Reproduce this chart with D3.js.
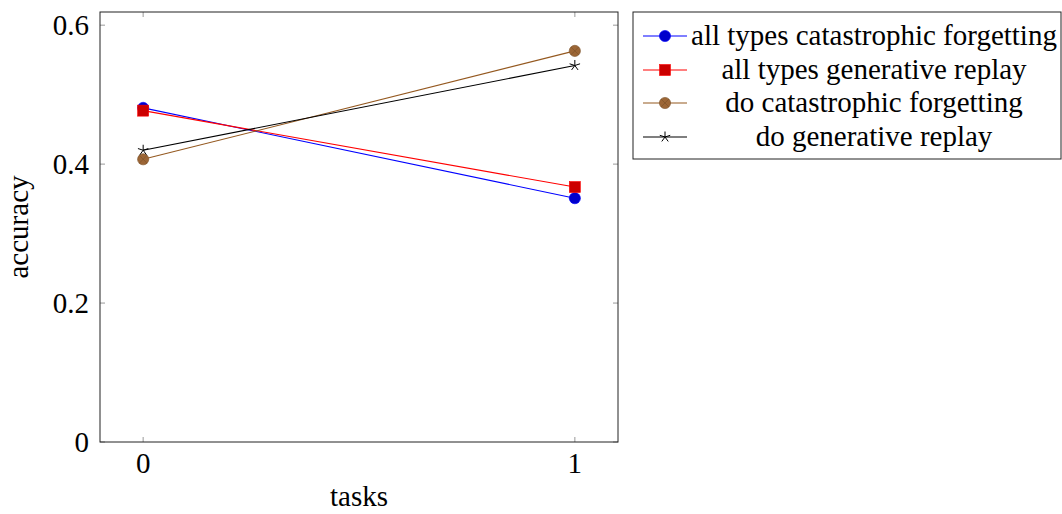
<!DOCTYPE html>
<html>
<head>
<meta charset="utf-8">
<script src="https://cdn.jsdelivr.net/npm/d3@7"></script>
<style>
  html, body { margin: 0; padding: 0; background: #fff; }
  svg { display: block; }
  text { font-family: "Liberation Serif", "Times New Roman", "DejaVu Serif", serif; fill: #000; }
</style>
</head>
<body>
<svg id="chart" width="1062" height="514"></svg>
<script>
// Accuracy per task for each training setting
const tasks = [0, 1];
const allTypesCatastrophic = [0.481, 0.351];
const allTypesGenerative = [0.477, 0.367];
const doCatastrophic = [0.407, 0.563];
const doGenerative = [0.420, 0.542];
const yTicks = [0, 0.2, 0.4, 0.6];
const xTicks = [0, 1];

const seriesNames = [
  "all types catastrophic forgetting",
  "all types generative replay",
  "do catastrophic forgetting",
  "do generative replay"
];
const seriesValues = [allTypesCatastrophic, allTypesGenerative, doCatastrophic, doGenerative];
const seriesStyles = [
  { line: "#0000ff", fill: "#0000cc", mark: "circle" },
  { line: "#ff0000", fill: "#cc0000", mark: "square" },
  { line: "#94581f", fill: "#9c6636", mark: "otimes" },
  { line: "#000000", fill: "#000000", mark: "star" }
];

const fontSize = 29;
const svg = d3.select("#chart");
const plot = { left: 100, right: 618, top: 12, bottom: 442 };

const x = d3.scaleLinear().domain([-0.1, 1.1]).range([plot.left, plot.right]);
const y = d3.scaleLinear().domain([0, 0.619]).range([plot.bottom, plot.top]);

// Tick marks drawn inward on all four sides
const tickLen = 5;
const tickColor = "#aaaaaa";
const ticks = svg.append("g");
yTicks.forEach(v => {
  ticks.append("line").attr("x1", plot.left).attr("x2", plot.left + tickLen)
    .attr("y1", y(v)).attr("y2", y(v)).attr("stroke", tickColor).attr("stroke-width", 1.2);
  ticks.append("line").attr("x1", plot.right).attr("x2", plot.right - tickLen)
    .attr("y1", y(v)).attr("y2", y(v)).attr("stroke", tickColor).attr("stroke-width", 1.2);
});
xTicks.forEach(v => {
  ticks.append("line").attr("x1", x(v)).attr("x2", x(v))
    .attr("y1", plot.bottom).attr("y2", plot.bottom - tickLen).attr("stroke", tickColor).attr("stroke-width", 1.2);
  ticks.append("line").attr("x1", x(v)).attr("x2", x(v))
    .attr("y1", plot.top).attr("y2", plot.top + tickLen).attr("stroke", tickColor).attr("stroke-width", 1.2);
});

// Tick labels
svg.append("g").selectAll("text").data(yTicks).join("text")
  .attr("x", plot.left - 11).attr("y", d => y(d)).attr("dy", "0.35em")
  .attr("text-anchor", "end").attr("font-size", fontSize)
  .text(d => d === 0 ? "0" : d3.format(".1f")(d));
svg.append("g").selectAll("text").data(xTicks).join("text")
  .attr("x", d => x(d)).attr("y", plot.bottom + 31)
  .attr("text-anchor", "middle").attr("font-size", fontSize)
  .text(d => d);

// Axis titles
svg.append("text").attr("x", (plot.left + plot.right) / 2).attr("y", 506)
  .attr("text-anchor", "middle").attr("font-size", fontSize).text("tasks");
svg.append("text").attr("transform", `translate(28,${(plot.top + plot.bottom) / 2}) rotate(-90)`)
  .attr("text-anchor", "middle").attr("font-size", fontSize).text("accuracy");

// Marker shapes
function drawMark(g, kind, cx, cy, st) {
  if (kind === "circle") {
    g.append("circle").attr("cx", cx).attr("cy", cy).attr("r", 5.6)
      .attr("fill", st.fill).attr("stroke", st.line).attr("stroke-width", 0.6);
  } else if (kind === "square") {
    g.append("rect").attr("x", cx - 5.5).attr("y", cy - 5.5).attr("width", 11).attr("height", 11)
      .attr("fill", st.fill).attr("stroke", st.line).attr("stroke-width", 0.6);
  } else if (kind === "otimes") {
    g.append("circle").attr("cx", cx).attr("cy", cy).attr("r", 5.6)
      .attr("fill", st.fill).attr("stroke", "#7a5028").attr("stroke-width", 0.6);
    const d = 5.6 * Math.SQRT1_2;
    g.append("path").attr("d", `M${cx - d},${cy - d}L${cx + d},${cy + d}M${cx - d},${cy + d}L${cx + d},${cy - d}`)
      .attr("stroke", "#7a5028").attr("stroke-width", 0.6);
  } else if (kind === "star") {
    let p = "";
    for (let i = 0; i < 5; i++) {
      const a = -Math.PI / 2 + i * 2 * Math.PI / 5;
      p += `M${cx},${cy}L${cx + 5.5 * Math.cos(a)},${cy + 5.5 * Math.sin(a)}`;
    }
    g.append("path").attr("d", p).attr("stroke", "#000").attr("stroke-width", 1).attr("fill", "none");
  }
}

// Series lines and markers
const line = d3.line().x(d => x(d[0])).y(d => y(d[1]));
seriesValues.forEach((vals, i) => {
  const st = seriesStyles[i];
  const pts = tasks.map((t, j) => [t, vals[j]]);
  svg.append("path").datum(pts).attr("d", line)
    .attr("fill", "none").attr("stroke", st.line).attr("stroke-width", 1.1);
  const g = svg.append("g");
  pts.forEach(p => drawMark(g, st.mark, x(p[0]), y(p[1]), st));
});

// Plot frame
svg.append("rect").attr("x", plot.left).attr("y", plot.top)
  .attr("width", plot.right - plot.left).attr("height", plot.bottom - plot.top)
  .attr("fill", "none").attr("stroke", "#222").attr("stroke-width", 1);

// Legend
const lg = { left: 633, top: 12, right: 1061, bottom: 159 };
svg.append("rect").attr("x", lg.left).attr("y", lg.top)
  .attr("width", lg.right - lg.left).attr("height", lg.bottom - lg.top)
  .attr("fill", "#fff").attr("stroke", "#222").attr("stroke-width", 1);
const rowY = [36, 70, 103, 137];
const textCenter = 874;
seriesNames.forEach((name, i) => {
  const st = seriesStyles[i];
  const g = svg.append("g");
  g.append("line").attr("x1", 643).attr("x2", 687).attr("y1", rowY[i]).attr("y2", rowY[i])
    .attr("stroke", st.line).attr("stroke-width", 1.1);
  drawMark(g, st.mark, 665, rowY[i], st);
  g.append("text").attr("x", textCenter).attr("y", rowY[i]).attr("dy", "0.32em")
    .attr("text-anchor", "middle").attr("font-size", fontSize).text(name);
});
</script>
</body>
</html>
